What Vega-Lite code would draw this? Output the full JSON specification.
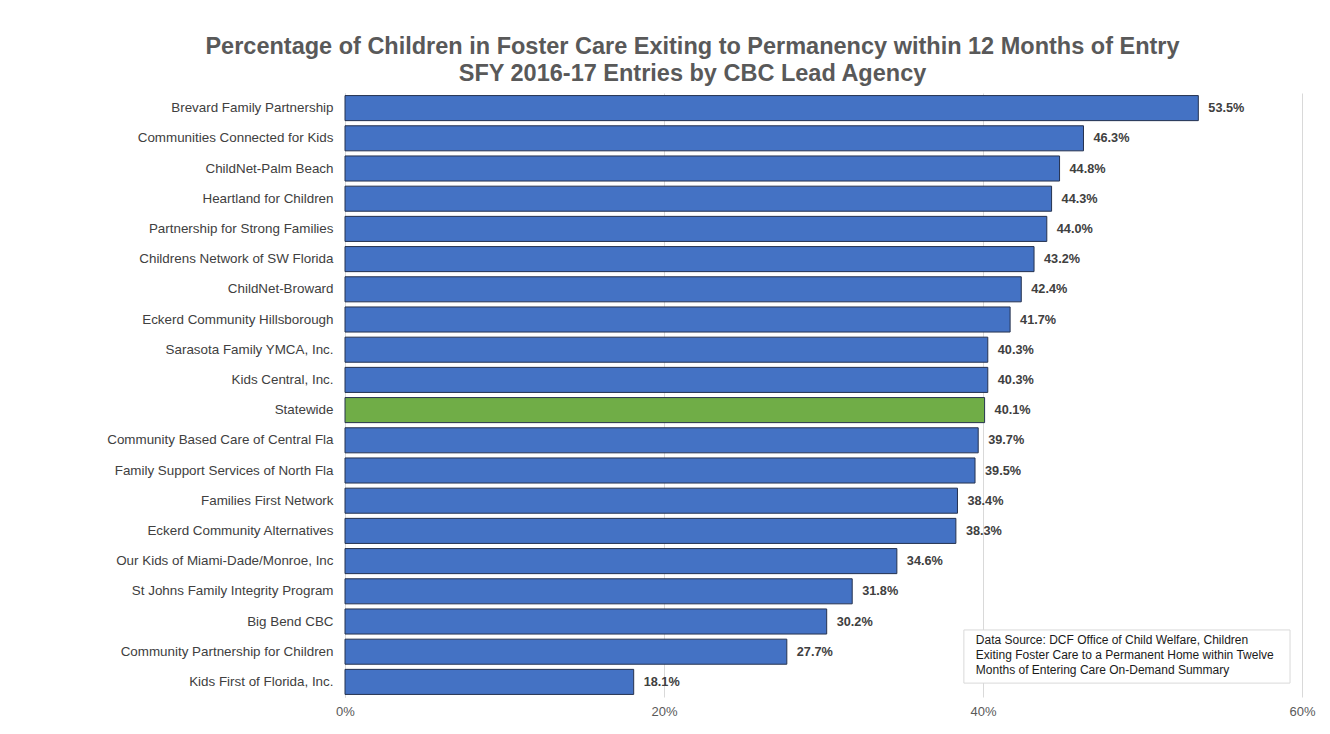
{
  "$schema": "https://vega.github.io/schema/vega-lite/v6.json",
  "width": 957,
  "height": 604,
  "autosize": {"type": "none"},
  "padding": {"left": 345, "top": 93, "right": 28, "bottom": 37},
  "background": "white",
  "title": {
    "text": ["Percentage of Children in Foster Care Exiting to Permanency within 12 Months of Entry", "SFY 2016-17 Entries by CBC Lead Agency"],
    "anchor": "middle",
    "frame": "group",
    "dx": -131,
    "offset": 8,
    "font": "Liberation Sans",
    "fontSize": 23.5,
    "fontWeight": "bold",
    "color": "#595959",
    "lineHeight": 27
  },
  "config": {
    "view": {"stroke": null},
    "font": "Liberation Sans"
  },
  "datasets": {
    "agencies": [
      {"agency": "Brevard Family Partnership", "rate": 0.535, "group": "Agency"},
      {"agency": "Communities Connected for Kids", "rate": 0.463, "group": "Agency"},
      {"agency": "ChildNet-Palm Beach", "rate": 0.448, "group": "Agency"},
      {"agency": "Heartland for Children", "rate": 0.443, "group": "Agency"},
      {"agency": "Partnership for Strong Families", "rate": 0.440, "group": "Agency"},
      {"agency": "Childrens Network of SW Florida", "rate": 0.432, "group": "Agency"},
      {"agency": "ChildNet-Broward", "rate": 0.424, "group": "Agency"},
      {"agency": "Eckerd Community Hillsborough", "rate": 0.417, "group": "Agency"},
      {"agency": "Sarasota Family YMCA, Inc.", "rate": 0.403, "group": "Agency"},
      {"agency": "Kids Central, Inc.", "rate": 0.403, "group": "Agency"},
      {"agency": "Statewide", "rate": 0.401, "group": "Statewide"},
      {"agency": "Community Based Care of Central Fla", "rate": 0.397, "group": "Agency"},
      {"agency": "Family Support Services of North Fla", "rate": 0.395, "group": "Agency"},
      {"agency": "Families First Network", "rate": 0.384, "group": "Agency"},
      {"agency": "Eckerd Community Alternatives", "rate": 0.383, "group": "Agency"},
      {"agency": "Our Kids of Miami-Dade/Monroe, Inc", "rate": 0.346, "group": "Agency"},
      {"agency": "St Johns Family Integrity Program", "rate": 0.318, "group": "Agency"},
      {"agency": "Big Bend CBC", "rate": 0.302, "group": "Agency"},
      {"agency": "Community Partnership for Children", "rate": 0.277, "group": "Agency"},
      {"agency": "Kids First of Florida, Inc.", "rate": 0.181, "group": "Agency"}
    ],
    "note": [
      {"x1": 0.388, "x2": 0.5925, "y1": 17.78, "y2": 19.54, "tx": 0.3955, "ty": 17.95,
       "text": "Data Source: DCF  Office of Child Welfare, Children\nExiting Foster Care to a Permanent Home  within Twelve\nMonths of Entering Care On-Demand Summary"}
    ]
  },
  "layer": [
    {
      "data": {"name": "agencies"},
      "encoding": {
        "y": {
          "field": "agency", "type": "nominal", "sort": null,
          "scale": {"paddingInner": 0.17, "paddingOuter": 0.085},
          "axis": {
            "title": null, "ticks": false, "domainColor": "#d9d9d9", "domainWidth": 1,
            "labelFont": "Liberation Sans", "labelFontSize": 13.4, "labelColor": "#404040",
            "labelPadding": 12, "labelLimit": 400
          }
        },
        "x": {
          "field": "rate", "type": "quantitative",
          "scale": {"domain": [0, 0.6], "nice": false},
          "axis": {
            "title": null, "format": ".0%", "values": [0, 0.2, 0.4, 0.6],
            "ticks": false, "domain": false, "grid": true, "gridColor": "#d9d9d9",
            "labelFont": "Liberation Sans", "labelFontSize": 13, "labelColor": "#595959",
            "labelPadding": 8, "labelFlush": false
          }
        }
      },
      "layer": [
        {
          "mark": {"type": "bar", "stroke": "#25324f", "strokeWidth": 1},
          "encoding": {
            "color": {
              "field": "group", "type": "nominal",
              "scale": {"domain": ["Agency", "Statewide"], "range": ["#4472C4", "#70AD47"]},
              "legend": null
            }
          }
        },
        {
          "mark": {"type": "text", "align": "left", "baseline": "middle", "dx": 10, "fontWeight": "bold", "fontSize": 12.7, "color": "#404040", "font": "Liberation Sans"},
          "encoding": {
            "text": {"field": "rate", "type": "quantitative", "format": ".1%"}
          }
        }
      ]
    },
    {
      "data": {"name": "note"},
      "layer": [
        {
          "mark": {"type": "rect", "fill": "white", "stroke": "#d9d9d9", "strokeWidth": 1},
          "encoding": {
            "x": {"field": "x1", "type": "quantitative"},
            "x2": {"field": "x2"},
            "y": {"field": "y1", "type": "quantitative", "scale": {"domain": [0, 20], "reverse": true, "nice": false}, "axis": null},
            "y2": {"field": "y2"}
          }
        },
        {
          "mark": {"type": "text", "align": "left", "baseline": "top", "fontSize": 12, "color": "#1a1a1a", "lineBreak": "\n", "lineHeight": 15, "font": "Liberation Sans"},
          "encoding": {
            "x": {"field": "tx", "type": "quantitative"},
            "y": {"field": "ty", "type": "quantitative", "scale": {"domain": [0, 20], "reverse": true, "nice": false}, "axis": null},
            "text": {"field": "text"}
          }
        }
      ]
    }
  ],
  "resolve": {"scale": {"y": "independent"}}
}
